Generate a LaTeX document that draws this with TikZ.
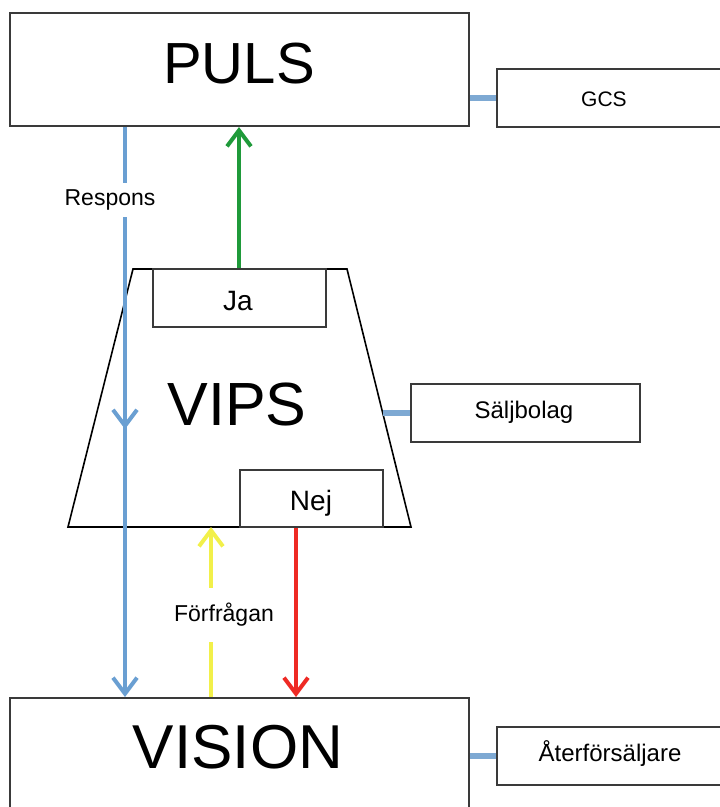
\documentclass[tikz,border=0pt]{standalone}
\usepackage{fontspec}
\setmainfont{Liberation Sans}
\usetikzlibrary{arrows.meta,decorations.markings}

\definecolor{flowblue}{HTML}{6A9FD2}
\definecolor{linkblue}{HTML}{7EA9D3}
\definecolor{okgreen}{HTML}{1F9A3A}
\definecolor{askyellow}{HTML}{F2F04A}
\definecolor{nored}{HTML}{EE2A24}
\definecolor{boxline}{HTML}{3A3A3A}

\tikzset{
  box/.style={draw=boxline, line width=2pt, fill=white, inner sep=0pt},
  txt/.style={inner sep=0pt, anchor=base, font=\fontsize{#1}{#1}\selectfont},
  flow/.style={line width=4pt, -{Straight Barb[length=16pt,width=24pt,line width=4pt]}},
  sidelink/.style={draw=linkblue, line width=6pt},
  gaplabel/.style={fill=white, inner xsep=3pt, inner ysep=#1, font=\fontsize{23}{23}\selectfont}
}

\begin{document}
\begin{tikzpicture}[x=1pt,y=-1pt]
  \useasboundingbox (0,0) rectangle (720,807);

  % main systems
  \node[box, minimum width=459pt, minimum height=113pt] (puls) at (239.5,69.5) {};
  \node[txt=58] (pulstext) at (239,83) {PULS};
  \node[box, minimum width=459pt, minimum height=114pt] (vision) at (239.5,755) {};
  \node[txt=62] (visiontext) at (238,768) {VISION};

  % side boxes
  \node[box, minimum width=225pt, minimum height=58pt] (gcs) at (609.5,98) {};
  \node[txt=21] at (604,106) {GCS};
  \node[box, minimum width=229pt, minimum height=58pt] (salj) at (525.5,413) {};
  \node[txt=24] at (524,418) {Säljbolag};
  \node[box, minimum width=225pt, minimum height=58pt] (ater) at (609.5,756) {};
  \node[txt=24] at (610,761) {Återförsäljare};

  % VIPS trapezoid
  \coordinate (vtl) at (133,269);
  \coordinate (vtr) at (347,269);
  \coordinate (vbr) at (411,527);
  \coordinate (vbl) at (68,527);
  \coordinate (vipsright) at (383,413);
  \draw[line width=1.6pt, fill=white] (vtl) -- (vtr) -- (vbr) -- (vbl) -- cycle;
  \node[txt=61] (vipstext) at (237,425) {VIPS};
  \node[box, minimum width=173pt, minimum height=58pt] (ja) at (239.5,298) {};
  \node[txt=28] at (238,310) {Ja};
  \node[box, minimum width=143pt, minimum height=57pt] (nej) at (311.5,498.5) {};
  \node[txt=28] at (311,510) {Nej};

  % links to the side boxes
  \draw[sidelink] (puls.east |- gcs.west) -- (gcs.west);
  \draw[sidelink] (vipsright) -- (salj.west);
  \draw[sidelink] (vision.east |- ater.west) -- (ater.west);

  % response path from PULS down to VISION
  \draw[flow, draw=flowblue,
        postaction={decorate},
        decoration={markings, mark=at position 0.53 with
          {\arrow{Straight Barb[length=16pt,width=24pt,line width=4pt]}}}]
    (puls.south -| 125,0) -- (vision.north -| 125,0);
  \node[gaplabel=7pt] (respons) at (110,200) {Respons};

  % yes answer back to PULS
  \draw[flow, draw=okgreen] (ja.north -| 239,0) -- (puls.south -| 239,0);

  % request from VISION to VIPS
  \draw[flow, draw=askyellow] (vision.north -| 211,0) -- (vbl -| 211,0);
  \node[gaplabel=15pt] (forfragan) at (224,615) {Förfrågan};

  % no answer back to VISION
  \draw[flow, draw=nored] (nej.south -| 296,0) -- (vision.north -| 296,0);
\end{tikzpicture}
\end{document}
